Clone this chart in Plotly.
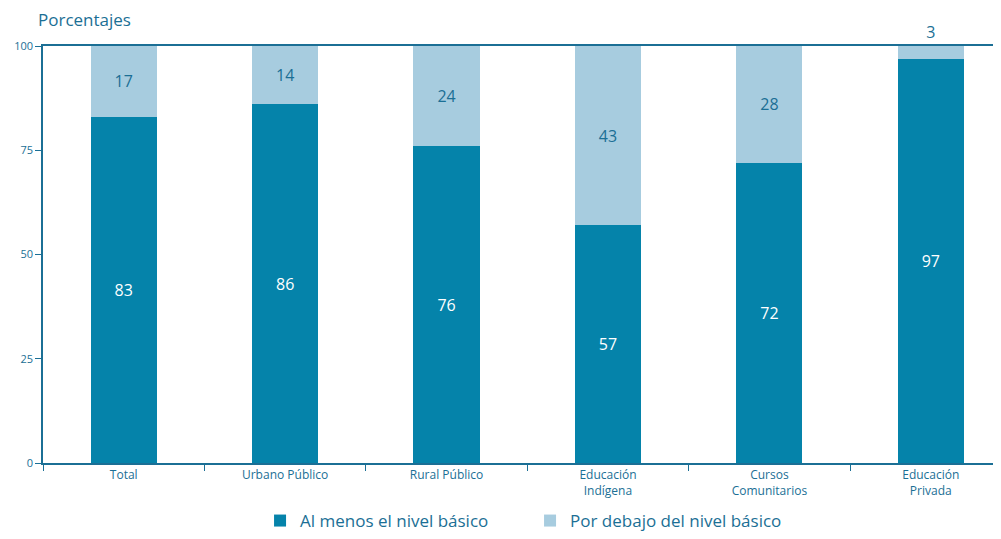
import plotly.graph_objects as go

categories = ["Total", "Urbano Público", "Rural Público", "Educación<br>Indígena",
              "Cursos<br>Comunitarios", "Educación<br>Privada"]
al_menos = [83, 86, 76, 57, 72, 97]
por_debajo = [17, 14, 24, 43, 28, 3]
series_names = ["Al menos el nivel básico", "Por debajo del nivel básico"]
y_ticks = [0, 25, 50, 75, 100]

DARK = "#0583AA"
LIGHT = "#A7CCDF"
TEXT = "#1B6F95"
FONT = "Open Sans"

W, H = 993, 531  # page body has an 8px margin
L, T, B = 35, 38, 76

fig = go.Figure()
fig.add_trace(go.Bar(
    x=categories, y=al_menos, name=series_names[0],
    marker=dict(color=DARK, line=dict(width=0)),
    text=[str(v) for v in al_menos], textposition="inside",
    insidetextanchor="middle",
    textfont=dict(color="white", size=16, family=FONT),
    width=0.41,
))
fig.add_trace(go.Bar(
    x=categories, y=por_debajo, name=series_names[1],
    marker=dict(color=LIGHT, line=dict(width=0)),
    text=[str(v) for v in por_debajo],
    textposition=["inside" if v >= 8 else "outside" for v in por_debajo],
    insidetextanchor="middle",
    textfont=dict(color=TEXT, size=16, family=FONT),
    width=0.41, cliponaxis=False,
))

fig.update_layout(
    barmode="stack",
    width=W, height=H,
    margin=dict(l=L, r=0, t=T, b=B, autoexpand=False),
    paper_bgcolor="white", plot_bgcolor="white",
    font=dict(family=FONT, color=TEXT),
    title=dict(text="Porcentajes", x=30 / W, xanchor="left", xref="container",
               y=1 - 12 / H, yanchor="middle", yref="container",
               font=dict(size=17, color=TEXT, family=FONT)),
    uniformtext=dict(minsize=8, mode="show"),
    showlegend=True,
    legend=dict(orientation="h", x=0.5084, xanchor="center",
                y=-B / (H - T - B), yanchor="bottom",
                font=dict(size=17, color=TEXT, family=FONT),
                traceorder="normal", itemwidth=30, entrywidth=225),
)
fig.update_xaxes(
    type="category", range=[-0.5, 5.435],
    showline=True, linecolor=TEXT, linewidth=1.5, mirror=True,
    ticks="outside", tickson="boundaries", ticklen=6, tickcolor=TEXT,
    tickfont=dict(size=12, color=TEXT, family=FONT), showgrid=False,
    automargin=False,
)
fig.update_yaxes(
    range=[0, 100], tickvals=y_ticks, ticktext=[str(t) for t in y_ticks],
    showline=True, linecolor=TEXT, linewidth=1.5, ticks="outside", ticklen=6,
    tickcolor=TEXT, tickfont=dict(size=11, color=TEXT, family=FONT),
    showgrid=False, zeroline=False, automargin=False,
)

fig.write_html("out.html")
